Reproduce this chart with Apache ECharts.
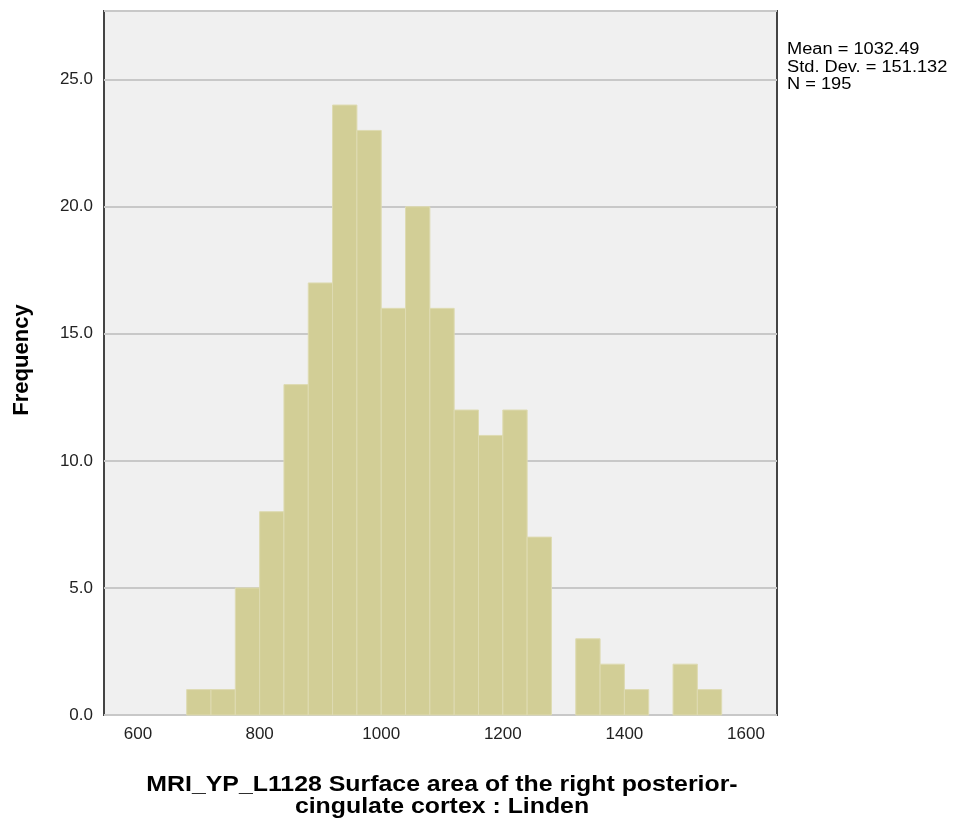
<!DOCTYPE html>
<html><head><meta charset="utf-8">
<script src="https://cdn.jsdelivr.net/npm/echarts@6/dist/echarts.min.js"></script>
<style>html,body{margin:0;padding:0;background:#fff}#c{width:954px;height:825px}</style>
</head><body><div id="c"></div>
<script>
const binStarts = [680,720,760,800,840,880,920,960,1000,1040,1080,1120,1160,1200,1240,1280,1320,1360,1400,1440,1480,1520];
const binWidth = 40;
const frequencies = [1,1,5,8,13,17,24,23,16,20,16,12,11,12,7,0,3,2,1,0,2,1];
const xTickLabels = [600,800,1000,1200,1400,1600];
const yTickLabels = [0,5,10,15,20,25];
const statsLines = ['Mean = 1032.49','Std. Dev. = 151.132','N = 195'];
const xTitle = 'MRI_YP_L1128 Surface area of the right posterior-\ncingulate cortex : Linden';
const yTitle = 'Frequency';

const data = binStarts.map((s,i)=>[s, s+binWidth, frequencies[i]]);
const chart = echarts.init(document.getElementById('c'));
chart.setOption({
  animation:false,
  backgroundColor:'#ffffff',
  textStyle:{fontFamily:'Liberation Sans, Arial, sans-serif'},
  grid:{left:104,top:11,right:177,bottom:110,show:true,backgroundColor:'#f0f0f0',borderColor:'#444444',borderWidth:2},
  xAxis:{type:'value',min:544,max:1651,
    name:'',
    axisLine:{show:false},axisTick:{show:false},splitLine:{show:false},
    axisLabel:{customValues:xTickLabels,fontSize:17,color:'#222',margin:11,formatter:v=>String(v)}
  },
  yAxis:{type:'value',min:0,max:27.7,interval:5,
    name:yTitle,nameLocation:'middle',nameGap:71,nameRotate:90,
    nameTextStyle:{fontSize:22,fontWeight:'bold',color:'#000',padding:[0,0,0,6]},
    axisLine:{show:false},axisTick:{show:false},
    splitLine:{lineStyle:{color:'#c8c8c8',width:2}},
    axisLabel:{fontSize:17,color:'#222',margin:11,
      formatter:v=> (yTickLabels.indexOf(v)>=0 ? v.toFixed(1) : '')}
  },
  graphic:[
    {type:'text',x:787,y:41,scaleX:1.14,style:{text:statsLines.join('\n'),font:'16px "Liberation Sans", Arial, sans-serif',fill:'#000',lineHeight:17.5}},
    {type:'text',x:442,y:774,scaleX:1.13,originX:0,style:{text:xTitle,align:'center',font:'bold 22px "Liberation Sans", Arial, sans-serif',fill:'#000',lineHeight:22}}
  ],
  series:[{type:'custom',data:data,encode:{x:[0,1],y:2},
    renderItem:function(params,api){
      const v=api.value(2); if(!v) return;
      const p0=api.coord([api.value(0),v]);
      const p1=api.coord([api.value(1),0]);
      return {type:'rect',shape:{x:p0[0],y:p0[1],width:p1[0]-p0[0],height:p1[1]-p0[1]},
        style:{fill:'#d2ce96',stroke:'#dedbb2',lineWidth:1}};
    }
  }]
});
</script></body></html>
